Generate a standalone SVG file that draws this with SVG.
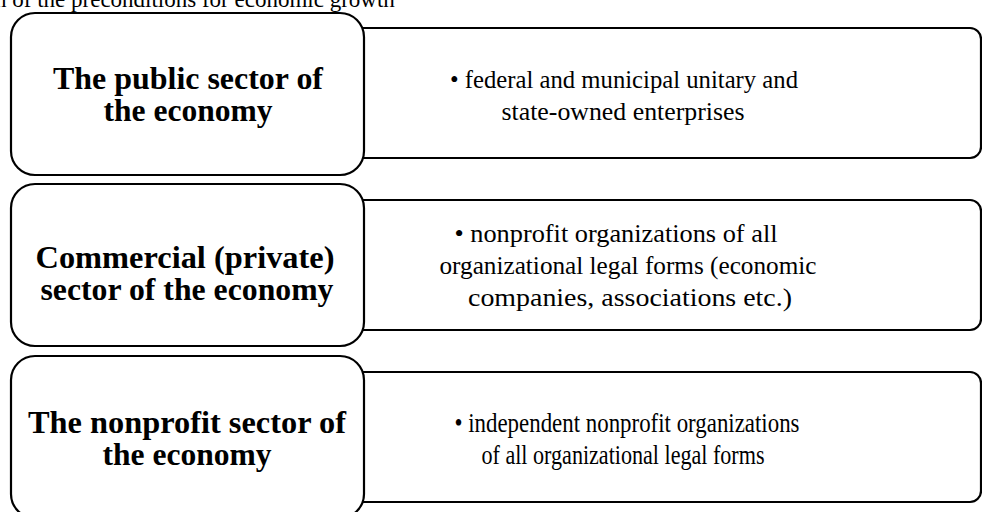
<svg xmlns="http://www.w3.org/2000/svg" width="982" height="512" viewBox="0 0 982 512">
<style>
.box{fill:#fff;stroke:#000;stroke-width:2.2}
text{font-family:'Liberation Serif','Times New Roman','DejaVu Serif',serif;fill:#000}
.lt{font-size:31px;font-weight:bold;text-anchor:middle}
.rt{font-size:26px;text-anchor:middle}
.ttl{font-size:23px}
</style>
<rect width="982" height="512" fill="#fff"/>
<text class="ttl" x="-5" y="7">n of the preconditions for economic growth</text>
<g id="connectors"/>
<g id="detail-public">
<rect class="box" x="345" y="28" width="636" height="130" rx="11"/>
<text class="rt" x="624" y="88" textLength="348" lengthAdjust="spacingAndGlyphs">• federal and municipal unitary and</text>
<text class="rt" x="623" y="120" textLength="243" lengthAdjust="spacingAndGlyphs">state-owned enterprises</text>
</g>
<g id="detail-commercial">
<rect class="box" x="345" y="200" width="636" height="130" rx="11"/>
<text class="rt" x="616" y="242" textLength="323" lengthAdjust="spacingAndGlyphs">• nonprofit organizations of all</text>
<text class="rt" x="628" y="274" textLength="377" lengthAdjust="spacingAndGlyphs">organizational legal forms (economic</text>
<text class="rt" x="630" y="306" textLength="324" lengthAdjust="spacingAndGlyphs">companies, associations etc.)</text>
</g>
<g id="detail-nonprofit">
<rect class="box" x="345" y="372" width="636" height="130" rx="11"/>
<text class="rt" x="627" y="432" style="font-size:27px" textLength="345" lengthAdjust="spacingAndGlyphs">• independent nonprofit organizations</text>
<text class="rt" x="623" y="464" style="font-size:27px" textLength="283" lengthAdjust="spacingAndGlyphs">of all organizational legal forms</text>
</g>
<g id="sector-public">
<rect class="box" x="11" y="13" width="353" height="162" rx="24"/>
<text class="lt" x="188" y="89" textLength="270" lengthAdjust="spacingAndGlyphs">The public sector of</text>
<text class="lt" x="188" y="121" textLength="169" lengthAdjust="spacingAndGlyphs">the economy</text>
</g>
<g id="sector-commercial">
<rect class="box" x="11" y="184" width="353" height="162" rx="24"/>
<text class="lt" x="185" y="268" textLength="299" lengthAdjust="spacingAndGlyphs">Commercial (private)</text>
<text class="lt" x="187" y="300" textLength="293" lengthAdjust="spacingAndGlyphs">sector of the economy</text>
</g>
<g id="sector-nonprofit">
<rect class="box" x="11" y="356" width="353" height="162" rx="24"/>
<text class="lt" x="187" y="433" textLength="318" lengthAdjust="spacingAndGlyphs">The nonprofit sector of</text>
<text class="lt" x="187" y="465" textLength="169" lengthAdjust="spacingAndGlyphs">the economy</text>
</g>
</svg>
